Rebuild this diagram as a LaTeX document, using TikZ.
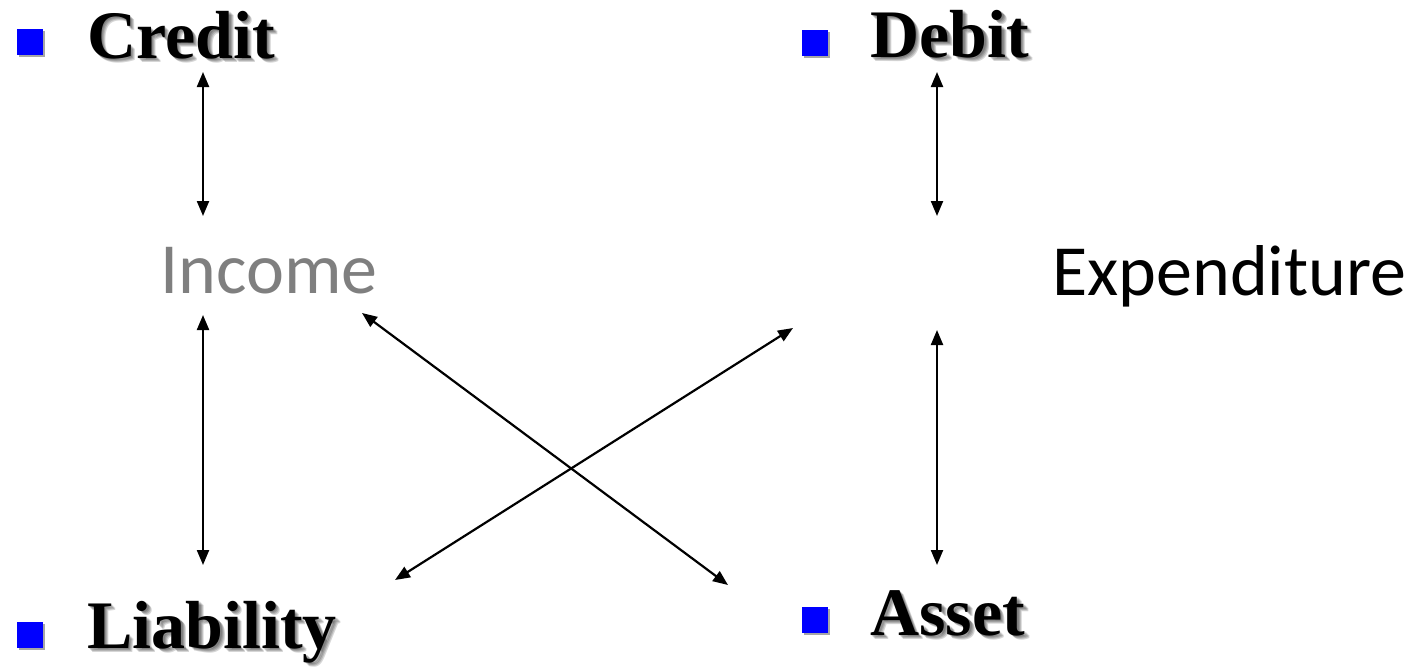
\documentclass[tikz,border=0pt]{standalone}
\usepackage{fontspec}
\setmainfont{Liberation Serif}
\newfontfamily\calib{Carlito}
\usetikzlibrary{arrows.meta}
\definecolor{bulletblue}{RGB}{0,0,255}
\definecolor{incomegray}{RGB}{127,127,127}
\tikzset{
  bigbold/.style={font=\fontsize{34}{40}\selectfont\bfseries, inner sep=0pt, anchor=base west},
  shad/.style={bigbold, text=black, opacity=0.16},
  calibtext/.style={font=\calib\fontsize{36}{43}\selectfont, inner sep=0pt, anchor=base west},
  link/.style={line width=1.1pt, {Triangle[length=7.5pt,width=6pt]}-{Triangle[length=7.5pt,width=6pt]}},
  sq/.style={fill=bulletblue, minimum size=13pt, inner sep=0pt, anchor=north west},
  sqshadow/.style={fill=black, opacity=0.35},
}
\newcommand\shadowlabel[4]{%
  \foreach \dd in {1.5,2.5,3.5,4.5}{\node[shad] at ([shift={(\dd,\dd)}]#2) {#4};}
  \node[bigbold] (#1) at (#2) {#4};}
\newcommand\bulletsq[3]{%
  \fill[sqshadow] ([shift={(2,2)}]#2) rectangle ++(26,26);
  \node[sq] (#1) at (#2) {};}
\begin{document}
\begin{tikzpicture}[x=0.5pt,y=-0.5pt]
\useasboundingbox (0,0) rectangle (1418,669);
% bullets
\bulletsq{sqcredit}{17,29}{}
\bulletsq{sqdebit}{802,30}{}
\bulletsq{sqliab}{17,622}{}
\bulletsq{sqasset}{802,607}{}
% bold labels
\shadowlabel{credit}{87,58}{}{Credit}
\shadowlabel{debit}{870,57}{}{Debit}
\shadowlabel{liab}{87,648}{}{Liability}
\shadowlabel{asset}{870,635}{}{Asset}
% middle labels
\node[calibtext, text=incomegray] (income) at (160,293) {Income};
\node[calibtext] (expend) at (1052,295) {Expenditure};
% arrow ends
\coordinate (c1) at (203,72);
\coordinate (c2) at (203,216);
\coordinate (i1) at (203,315);
\coordinate (i2) at (203,565);
\coordinate (d1) at (937,72);
\coordinate (d2) at (937,216);
\coordinate (e1) at (937,330);
\coordinate (e2) at (937,565);
\coordinate (x1) at (362,313);
\coordinate (x2) at (728,585);
\coordinate (y1) at (793,328);
\coordinate (y2) at (395,580);
\draw[link] (c1) -- (c2);
\draw[link] (i1) -- (i2);
\draw[link] (d1) -- (d2);
\draw[link] (e1) -- (e2);
\draw[link] (x1) -- (x2);
\draw[link] (y1) -- (y2);
\end{tikzpicture}
\end{document}
